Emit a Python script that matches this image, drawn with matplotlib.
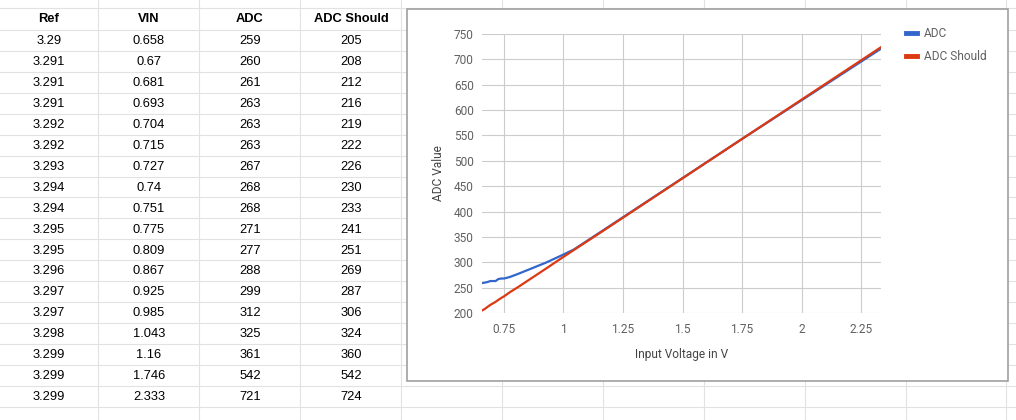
import matplotlib.pyplot as plt
from matplotlib.patches import Rectangle

# table / chart data
header = ["Ref", "VIN", "ADC", "ADC Should"]
ref = [3.29, 3.291, 3.291, 3.291, 3.292, 3.292, 3.293, 3.294, 3.294,
       3.295, 3.295, 3.296, 3.297, 3.297, 3.298, 3.299, 3.299, 3.299]
vin = [0.658, 0.67, 0.681, 0.693, 0.704, 0.715, 0.727, 0.74, 0.751,
       0.775, 0.809, 0.867, 0.925, 0.985, 1.043, 1.16, 1.746, 2.333]
adc = [259, 260, 261, 263, 263, 263, 267, 268, 268,
       271, 277, 288, 299, 312, 325, 361, 542, 721]
adc_should = [205, 208, 212, 216, 219, 222, 226, 230, 233,
              241, 251, 269, 287, 306, 324, 360, 542, 724]
x_ticks = [0.75, 1, 1.25, 1.5, 1.75, 2, 2.25]
x_ticklabels = ["0.75", "1", "1.25", "1.5", "1.75", "2", "2.25"]
y_ticks = [200, 250, 300, 350, 400, 450, 500, 550, 600, 650, 700, 750]

W, H = 1016, 420
fig = plt.figure(figsize=(W / 100, H / 100), dpi=100)

# spreadsheet background, pixel coordinates
bg = fig.add_axes([0, 0, 1, 1])
bg.set_xlim(0, W)
bg.set_ylim(H, 0)
bg.axis("off")

grid_col = "#e2e2e2"
col_w = 100.9
row_h = 20.93
for i in range(1, 11):
    bg.axvline(i * col_w - 2.6, color=grid_col, lw=0.8)
bg.axhline(8.3, color=grid_col, lw=0.8)
for k in range(20):
    bg.axhline(30 + k * row_h, color=grid_col, lw=0.8)

tfont = "Liberation Sans"
centers = [49, 149, 250, 351]
for c, name in zip(centers, header):
    bg.text(c, 19.5, name, ha="center", va="center", fontsize=9.3,
            fontweight="bold", family=tfont, color="#000000")
cols = [ref, vin, adc, adc_should]
for k in range(len(ref)):
    yy = 30 + row_h * (k + 0.5) + 0.8
    for c, vals in zip(centers, cols):
        bg.text(c, yy, str(vals[k]), ha="center", va="center",
                fontsize=9.3, family=tfont, color="#000000")

# chart box
bg.add_patch(Rectangle((406.5, 8.8), 601, 372.5, facecolor="white",
                       edgecolor="#a0a0a0", lw=1.2, zorder=3))

# chart
px0, px1, py0, py1 = 482, 881, 34, 313
ax = fig.add_axes([px0 / W, (H - py1) / H, (px1 - px0) / W, (py1 - py0) / H])
ax.set_facecolor("none")
ax.plot(vin, adc, color="#3366cc", lw=1.6, label="ADC", zorder=3)
ax.plot(vin, adc_should, color="#dc3912", lw=1.6, label="ADC Should", zorder=4)
ax.set_xlim(vin[0], vin[-1])
ax.set_ylim(200, 750)
ax.set_xticks(x_ticks)
ax.set_xticklabels(x_ticklabels)
ax.set_yticks(y_ticks)
ax.grid(True, color="#cccccc", lw=0.8)
for s in ax.spines.values():
    s.set_visible(False)

cfont = "Roboto"
tc = "#616161"
ax.tick_params(length=0, labelsize=8.6, labelcolor=tc, pad=6)
ax.tick_params(axis="x", pad=7)
for lab in ax.get_xticklabels() + ax.get_yticklabels():
    lab.set_family(cfont)
ax.set_xlabel("Input Voltage in V", fontsize=8.6, color="#444444",
              family=cfont, labelpad=9)
ax.set_ylabel("ADC Value", fontsize=8.6, color="#444444",
              family=cfont, labelpad=6)

leg = fig.legend(loc="upper left", bbox_to_anchor=(906 / W, 1 - 27 / H),
                 frameon=False, handlelength=0.9,
                 handletextpad=0.6, labelspacing=0.85, borderpad=0,
                 borderaxespad=0, prop={"family": cfont, "size": 8.6})
for line in leg.get_lines():
    line.set_linewidth(3.5)
for t in leg.get_texts():
    t.set_color(tc)

fig.savefig("out.png", dpi=100)
